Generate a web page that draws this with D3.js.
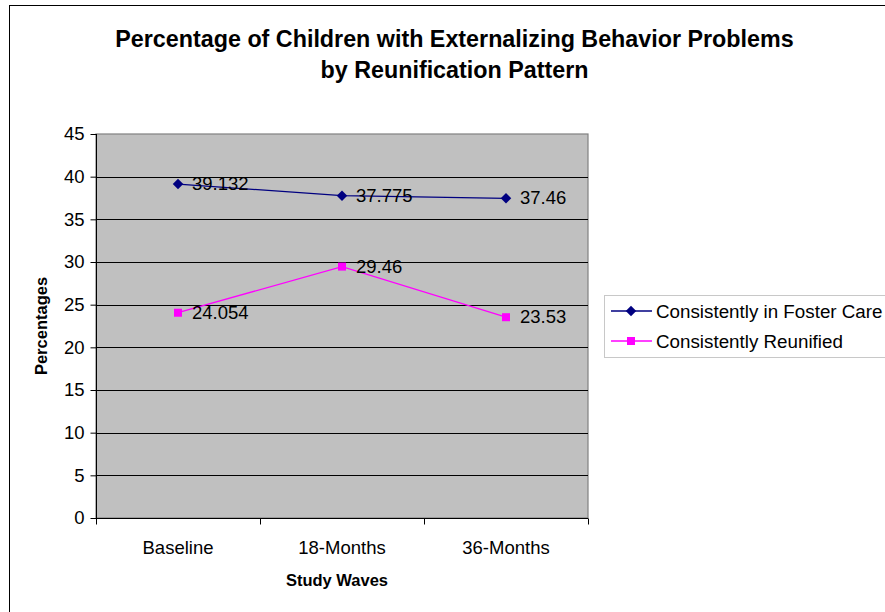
<!DOCTYPE html>
<html><head><meta charset="utf-8">
<script src="https://cdn.jsdelivr.net/npm/d3@7"></script>
<style>body{margin:0;background:#fff;} text{font-family:"Liberation Sans",Arial,sans-serif;}</style>
</head><body>
<svg id="chart" width="885" height="612"></svg>
<script>
const categories = ["Baseline", "18-Months", "36-Months"];
const fosterCare = [39.132, 37.775, 37.46];
const reunified = [24.054, 29.46, 23.53];
const fosterLabels = ["39.132", "37.775", "37.46"];
const reunifiedLabels = ["24.054", "29.46", "23.53"];
const yTicks = [0, 5, 10, 15, 20, 25, 30, 35, 40, 45];
const seriesNames = ["Consistently in Foster Care", "Consistently Reunified"];

const svg = d3.select("#chart");
const FS = 18.5;
// outer frame
svg.append("rect").attr("x", 9.5).attr("y", 5.5).attr("width", 900).attr("height", 640)
  .attr("fill", "#fff").attr("stroke", "#000").attr("stroke-width", 1);

const m = {left: 96, top: 134, right: 588, bottom: 518};
const x = d3.scaleBand().domain(categories).range([m.left, m.right]);
const y = d3.scaleLinear().domain([0, 45]).range([m.bottom, m.top]);

// plot area
svg.append("rect").attr("x", m.left).attr("y", m.top).attr("width", m.right - m.left).attr("height", m.bottom - m.top)
  .attr("fill", "#C0C0C0").attr("stroke", "#808080").attr("stroke-width", 1.2);

// gridlines
svg.append("g").selectAll("line").data(yTicks.filter(d => d > 0 && d < 45)).join("line")
  .attr("x1", m.left).attr("x2", m.right).attr("y1", d => Math.round(y(d)) + 0.5).attr("y2", d => Math.round(y(d)) + 0.5)
  .attr("stroke", "#000").attr("stroke-width", 1);

// y axis
const yAxis = d3.axisLeft(y).tickValues(yTicks).tickSize(6).tickPadding(6);
const gy = svg.append("g").attr("transform", `translate(${m.left + 0.5},0)`).call(yAxis);
gy.select(".domain").attr("d", `M0,${m.top}V${m.bottom}`).attr("stroke", "#000");
gy.selectAll(".tick line").attr("stroke", "#000");
gy.selectAll(".tick text").attr("font-size", FS).attr("fill", "#000").style("font-family", "Liberation Sans, Arial, sans-serif").attr("x", -12);

// x axis
const gx = svg.append("g").attr("transform", `translate(0,${m.bottom + 0.5})`);
gx.append("line").attr("x1", m.left).attr("x2", m.right).attr("stroke", "#000");
const bounds = categories.map(c => x(c)).concat([x(categories[categories.length - 1]) + x.bandwidth()]);
gx.selectAll("line.tk").data(bounds).join("line").attr("class", "tk")
  .attr("x1", d => Math.round(d) + 0.5).attr("x2", d => Math.round(d) + 0.5).attr("y1", 0).attr("y2", 6).attr("stroke", "#000");
gx.selectAll("text").data(categories).join("text")
  .attr("x", d => x(d) + x.bandwidth() / 2).attr("y", 35).attr("text-anchor", "middle")
  .attr("font-size", FS).attr("fill", "#000").text(d => d);

// lines
const cx = d => x(d) + x.bandwidth() / 2;
const line = d3.line().x((d, i) => cx(categories[i])).y(d => y(d));
svg.append("path").datum(fosterCare).attr("d", line).attr("fill", "none").attr("stroke", "#000080").attr("stroke-width", 1.3);
svg.append("path").datum(reunified).attr("d", line).attr("fill", "none").attr("stroke", "#FF00FF").attr("stroke-width", 1.3);

// markers
const diamond = d3.symbol().type(d3.symbolDiamond2).size(70);
svg.append("g").selectAll("path").data(fosterCare).join("path")
  .attr("d", diamond).attr("transform", (d, i) => `translate(${cx(categories[i])},${y(d)})`)
  .attr("fill", "#000080");
svg.append("g").selectAll("rect").data(reunified).join("rect")
  .attr("x", (d, i) => cx(categories[i]) - 4).attr("y", d => y(d) - 4).attr("width", 8).attr("height", 8)
  .attr("fill", "#FF00FF");

// data labels
svg.append("g").selectAll("text").data(fosterCare).join("text")
  .attr("x", (d, i) => cx(categories[i]) + 14).attr("y", d => y(d) + 6)
  .attr("font-size", FS).attr("fill", "#000").text((d, i) => fosterLabels[i]);
svg.append("g").selectAll("text").data(reunified).join("text")
  .attr("x", (d, i) => cx(categories[i]) + 14).attr("y", d => y(d) + 6)
  .attr("font-size", FS).attr("fill", "#000").text((d, i) => reunifiedLabels[i]);

// title
const title = svg.append("text").attr("text-anchor", "middle").attr("font-weight", "bold").attr("font-size", 23.3).attr("fill", "#000");
title.append("tspan").attr("x", 454.5).attr("y", 47).text("Percentage of Children with Externalizing Behavior Problems");
title.append("tspan").attr("x", 454.5).attr("y", 78).text("by Reunification Pattern");

// axis titles
svg.append("text").attr("transform", `translate(47,${(m.top + m.bottom) / 2}) rotate(-90)`).attr("text-anchor", "middle")
  .attr("font-weight", "bold").attr("font-size", 16.5).attr("fill", "#000").text("Percentages");
svg.append("text").attr("x", 337).attr("y", 586).attr("text-anchor", "middle")
  .attr("font-weight", "bold").attr("font-size", 16.5).attr("fill", "#000").text("Study Waves");

// legend
const lg = svg.append("g");
lg.append("rect").attr("x", 604.5).attr("y", 295.5).attr("width", 300).attr("height", 62)
  .attr("fill", "#fff").attr("stroke", "#C8C8C8").attr("stroke-width", 1);
const colors = ["#000080", "#FF00FF"];
seriesNames.forEach((s, i) => {
  const yy = 311 + i * 30;
  lg.append("line").attr("x1", 611).attr("x2", 652).attr("y1", yy).attr("y2", yy).attr("stroke", colors[i]).attr("stroke-width", 1.3);
  if (i === 0) lg.append("path").attr("d", diamond).attr("transform", `translate(631,${yy})`).attr("fill", colors[i]);
  else lg.append("rect").attr("x", 627).attr("y", yy - 4).attr("width", 8).attr("height", 8).attr("fill", colors[i]);
  lg.append("text").attr("x", 656).attr("y", yy + 6.5).attr("font-size", 18.8).attr("fill", "#000").text(s);
});
</script>
</body></html>
